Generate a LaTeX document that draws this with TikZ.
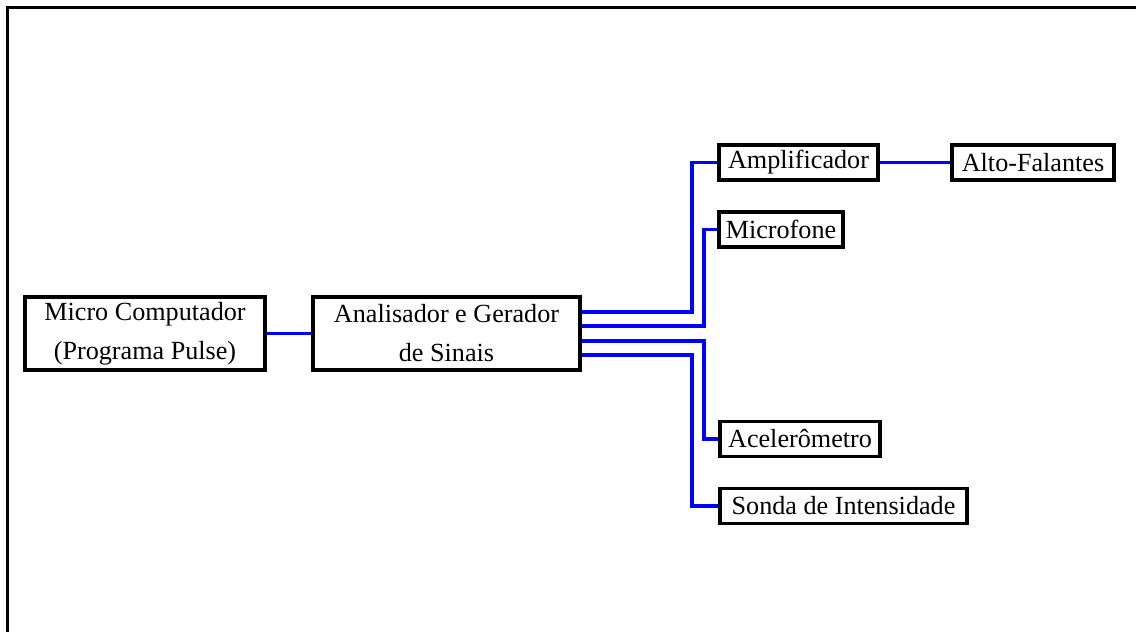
\documentclass[tikz,border=0pt]{standalone}
\usepackage{fontspec}
\setmainfont{Liberation Serif}
\begin{document}
\begin{tikzpicture}[x=0.025cm,y=-0.025cm,
    box/.style={draw,line width=2.4pt,inner sep=0pt,align=center,
      font=\fontsize{18.6}{27.7}\selectfont},
    wire/.style={draw=blue,line width=2.6pt},
    frame/.style={draw,line width=1.7pt}]
      \useasboundingbox (0,0) rectangle (1136,632);
      \draw[frame] (1136,7.5) -- (7.5,7.5) -- (7.5,632);
      \node[box,minimum width=6cm,minimum height=1.825cm] (micro) at (145,333.5)
        {Micro Computador\\(Programa Pulse)};
      \node[box,minimum width=6.675cm,minimum height=1.825cm] (anal) at (446.5,333.5)
        {Analisador e Gerador\\de Sinais};
      \node[box,minimum width=3.975cm,minimum height=0.875cm] (ampl) at (798.5,162.5) {Amplificador};
      \node[box,minimum width=4.05cm,minimum height=0.875cm] (alto) at (1033,162.5) {Alto-Falantes};
      \node[box,minimum width=3.1cm,minimum height=0.875cm] (micf) at (781,229.5) {Microfone};
      \node[box,minimum width=4cm,minimum height=0.875cm] (acel) at (800,439) {Acelerômetro};
      \node[box,minimum width=6.175cm,minimum height=0.875cm] (sonda) at (843.5,506) {Sonda de Intensidade};
      \coordinate (outer) at (692,0);
      \coordinate (inner) at (704,0);
      \begin{scope}[wire]
        \draw (micro) -- (anal);
        \draw (ampl) -- (alto);
        \draw ([yshift=0.54cm]anal.east) -| (outer |- ampl.west) -- (ampl.west);
        \draw ([yshift=0.18cm]anal.east) -| (inner |- micf.west) -- (micf.west);
        \draw ([yshift=-0.18cm]anal.east) -| (inner |- acel.west) -- (acel.west);
        \draw ([yshift=-0.54cm]anal.east) -| (outer |- sonda.west) -- (sonda.west);
      \end{scope}
    \end{tikzpicture}
\end{document}
